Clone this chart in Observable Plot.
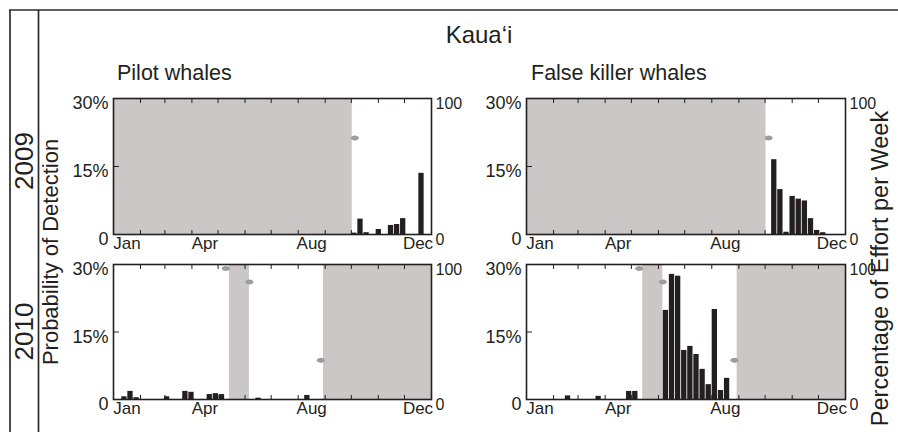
<!DOCTYPE html>
<html><head><meta charset="utf-8">
<script src="https://cdn.jsdelivr.net/npm/d3@7"></script>
<script src="https://cdn.jsdelivr.net/npm/@observablehq/plot@0.6"></script>
<style>
html,body{margin:0;padding:0;background:#fff;}
#root{position:relative;width:898px;height:432px;overflow:hidden;font-family:"Liberation Sans",Arial,sans-serif;}
.panel{position:absolute;}
#deco{position:absolute;left:0;top:0;}
</style></head><body><div id="root"></div>
<script>
// ---------- colours ----------
const ink = "#231f20";
const noEffortFill = "#cbc7c6";
const effortFill = "#9d9d9d";

// ---------- texts ----------
const regionTitle = "Kaua‘i";
const speciesNames = ["Pilot whales", "False killer whales"];
const years = ["2009", "2010"];
const leftAxisTitle = "Probability of Detection";
const rightAxisTitle = "Percentage of Effort per Week";

// ---------- axes ----------
const monthStartDays = [0, 31, 59, 90, 120, 151, 181, 212, 243, 273, 304, 334, 365];
const labelledMonthIndex = [0, 3, 7, 11];
const labelledMonths = ["Jan", "Apr", "Aug", "Dec"];
const detectionTicks = [0, 15, 30];          // percent
const effortTicks = [0, 100];                // percent of effort

// first day of week 0 in each year (weeks are 7 days)
const weekOffset2009 = 0;
const weekOffset2010 = 2;

// ---------- weekly probability of detection (%) ----------
const pilot2009Weeks  = [39, 40, 41, 43, 45, 46, 47, 50];
const pilot2009Values = [0.3, 3.4, 0.4, 1.1, 2.0, 2.2, 3.5, 13.5];

const fkw2009Weeks  = [40, 41, 42, 43, 44, 45, 46, 47, 48];
const fkw2009Values = [16.5, 9.9, 0.5, 8.4, 7.8, 7.4, 3.5, 0.9, 0.4];

const pilot2010Weeks  = [1, 2, 3, 8, 11, 12, 15, 16, 17, 23, 31];
const pilot2010Values = [0.6, 1.8, 0.4, 0.6, 1.8, 1.6, 1.1, 1.3, 1.1, 0.3, 0.9];

const fkw2010Weeks  = [6, 11, 16, 17, 22, 23, 24, 25, 26, 27, 28, 29, 30, 31, 32];
const fkw2010Values = [0.8, 0.7, 1.8, 1.8, 19.8, 27.8, 27.4, 10.9, 11.8, 10.0, 6.7, 3.3, 20.0, 2.0, 4.7];

// ---------- periods without recording effort (day of year) ----------
const gap2009Start = [0];
const gap2009End   = [274];
const gap2010Start = [133, 241];
const gap2010End   = [156, 365];

// ---------- weeks with partial effort ----------
const effort2009Days = [277];
const effort2009Pct  = [71];
const effort2010Days = [129, 156, 238];
const effort2010Pct  = [97, 87, 29];

// ---------- helpers ----------
const zip = (a, b, ka, kb) => a.map((v, i) => ({[ka]: v, [kb]: b[i]}));
const labelDays = labelledMonthIndex.map(i => (monthStartDays[i] + monthStartDays[i + 1]) / 2);
const labelByDay = new Map(labelDays.map((d, i) => [d, labelledMonths[i]]));

const ellipseSymbol = {
  draw(context, size) {
    const r = Math.sqrt(size / Math.PI);
    const rx = r * 1.35, ry = r * 0.85, k = 0.5523;
    context.moveTo(rx, 0);
    context.bezierCurveTo(rx, ry * k, rx * k, ry, 0, ry);
    context.bezierCurveTo(-rx * k, ry, -rx, ry * k, -rx, 0);
    context.bezierCurveTo(-rx, -ry * k, -rx * k, -ry, 0, -ry);
    context.bezierCurveTo(rx * k, -ry, rx, -ry * k, rx, 0);
    context.closePath();
  }
};

const root = document.getElementById("root");

// ---------- decoration: frame lines and titles ----------
const W = 898, H = 432;
const deco = d3.select(root).append("svg").attr("id", "deco").attr("width", W).attr("height", H)
  .style("font-family", "'Liberation Sans', Arial, sans-serif").attr("fill", ink);
deco.append("line").attr("x1", 10).attr("x2", 10).attr("y1", 10).attr("y2", H).attr("stroke", "#2b2b2b").attr("stroke-width", 1.7);
deco.append("line").attr("x1", 38.5).attr("x2", 38.5).attr("y1", 10).attr("y2", H).attr("stroke", "#2b2b2b").attr("stroke-width", 1.7);
deco.append("line").attr("x1", 9).attr("x2", W).attr("y1", 10).attr("y2", 10).attr("stroke", "#2b2b2b").attr("stroke-width", 1.7);
deco.append("text").attr("x", 479).attr("y", 42.5).attr("text-anchor", "middle").attr("font-size", 24).text(regionTitle);
deco.append("text").attr("x", 117).attr("y", 80).attr("font-size", 21.5).text(speciesNames[0]);
deco.append("text").attr("x", 531).attr("y", 80).attr("font-size", 21.5).text(speciesNames[1]);
deco.append("text").attr("transform", "translate(33,161) rotate(-90)").attr("text-anchor", "middle").attr("font-size", 26).text(years[0]);
deco.append("text").attr("transform", "translate(33,331.5) rotate(-90)").attr("text-anchor", "middle").attr("font-size", 26).text(years[1]);
deco.append("text").attr("transform", "translate(57.5,252) rotate(-90)").attr("text-anchor", "middle").attr("font-size", 22).text(leftAxisTitle);
deco.append("text").attr("transform", "translate(888,268.5) rotate(-90)").attr("text-anchor", "middle").attr("font-size", 23.5).text(rightAxisTitle);

// ---------- panels ----------
function panel({left, top, pw, ph, weeks, values, offset, gapStart, gapEnd, effDays, effPct}) {
  const mL = 50, mR = 40, mT = 4, mB = 26;
  const bars = zip(weeks, values, "week", "value");
  const gaps = zip(gapStart, gapEnd, "start", "end");
  const effort = zip(effDays, effPct, "day", "pct");
  const innerTicks = monthStartDays.slice(1, -1);
  const chart = Plot.plot({
    width: mL + pw + mR, height: mT + ph + mB,
    marginLeft: mL, marginRight: mR, marginTop: mT, marginBottom: mB,
    x: {type: "linear", domain: [0, 365], axis: null},
    y: {type: "linear", domain: [0, 30], axis: null},
    style: {fontFamily: "'Liberation Sans', Arial, sans-serif", fontSize: "17px", color: ink, background: "transparent", overflow: "visible"},
    marks: [
      Plot.rect(gaps, {x1: "start", x2: "end", fill: noEffortFill}),
      Plot.rectY(bars, {x1: d => offset + 7 * d.week, x2: d => offset + 7 * d.week + 7, y: "value", fill: ink, insetLeft: 0.4, insetRight: 0.4}),
      Plot.dot(effort, {x: "day", y: d => d.pct * 30 / 100, r: 3, symbol: ellipseSymbol, fill: effortFill}),
      Plot.axisX(innerTicks, {anchor: "bottom", label: null, tickSize: 4, dy: -4, tickFormat: () => "", stroke: ink}),
      Plot.axisX(innerTicks, {anchor: "top", label: null, tickSize: 4, dy: 4, tickFormat: () => "", stroke: ink}),
      Plot.axisY([15], {anchor: "left", label: null, tickSize: 6, dx: 6, tickFormat: () => "", stroke: ink}),
      Plot.axisX(labelDays, {anchor: "bottom", label: null, tickSize: 0, tickPadding: 2, tickFormat: d => labelByDay.get(d), fontSize: 17}),
      Plot.axisY(detectionTicks, {anchor: "left", label: null, tickSize: 0, tickPadding: 5, tickFormat: d => d === 0 ? "0" : d + "%", dy: 5, fontSize: 18}),
      Plot.axisY(effortTicks.map(v => v * 30 / 100), {anchor: "right", label: null, tickSize: 0, tickPadding: 4, tickFormat: d => String(Math.round(d * 100 / 30)), dy: 5, fontSize: 16}),
      Plot.frame({stroke: ink, strokeWidth: 1.6})
    ]
  });
  const wrap = document.createElement("div");
  wrap.className = "panel";
  wrap.style.left = (left - mL) + "px";
  wrap.style.top = (top - mT) + "px";
  wrap.appendChild(chart);
  root.appendChild(wrap);
}

panel({left: 113, top: 98, pw: 318, ph: 136, weeks: pilot2009Weeks, values: pilot2009Values, offset: weekOffset2009,
  gapStart: gap2009Start, gapEnd: gap2009End, effDays: effort2009Days, effPct: effort2009Pct});
panel({left: 526, top: 98, pw: 319, ph: 136, weeks: fkw2009Weeks, values: fkw2009Values, offset: weekOffset2009,
  gapStart: gap2009Start, gapEnd: gap2009End, effDays: effort2009Days, effPct: effort2009Pct});
panel({left: 113, top: 264, pw: 318, ph: 135, weeks: pilot2010Weeks, values: pilot2010Values, offset: weekOffset2010,
  gapStart: gap2010Start, gapEnd: gap2010End, effDays: effort2010Days, effPct: effort2010Pct});
panel({left: 526, top: 264, pw: 319, ph: 135, weeks: fkw2010Weeks, values: fkw2010Values, offset: weekOffset2010,
  gapStart: gap2010Start, gapEnd: gap2010End, effDays: effort2010Days, effPct: effort2010Pct});
</script>
</body></html>
